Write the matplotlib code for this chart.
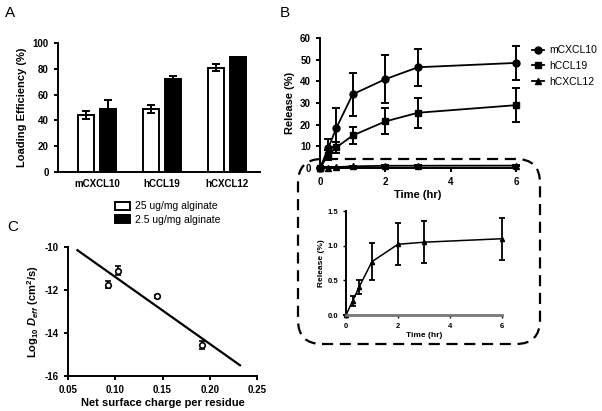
import matplotlib
matplotlib.use("Agg")
import matplotlib.pyplot as plt
from matplotlib.patches import FancyBboxPatch, Patch
import numpy as np

plt.rcParams['font.family'] = ['Liberation Sans', 'DejaVu Sans']
plt.rcParams['mathtext.fontset'] = 'custom'
plt.rcParams['mathtext.rm'] = 'Liberation Sans:bold'
plt.rcParams['mathtext.it'] = 'Liberation Sans:bold:italic'
plt.rcParams['mathtext.bf'] = 'Liberation Sans:bold'
plt.rcParams['axes.unicode_minus'] = False
plt.rcParams['axes.linewidth'] = 1.4
plt.rcParams['xtick.major.width'] = 1.4
plt.rcParams['ytick.major.width'] = 1.4
plt.rcParams['xtick.major.size'] = 3
plt.rcParams['ytick.major.size'] = 3

# ---- data ----
# panel A: loading efficiency
chemokines = ['mCXCL10', 'hCCL19', 'hCXCL12']
load_25 = [44, 49, 81]
load_25_err = [3, 3, 2.5]
load_2p5 = [49, 72, 89]
load_2p5_err = [7, 2.5, 0.5]

# panel B: release over time
time_hr = [0, 0.25, 0.5, 1, 2, 3, 6]
rel_cxcl10 = [0, 9, 18.5, 34, 41, 46.5, 48.5]
rel_cxcl10_err = [0, 4.5, 9, 10, 11, 8.5, 8]
rel_ccl19 = [0, 6, 9.5, 15, 21.5, 25.5, 29]
rel_ccl19_err = [0, 2.5, 2.5, 4, 6, 7, 8]
rel_cxcl12 = [0, 0.2, 0.4, 0.77, 1.02, 1.05, 1.1]
rel_cxcl12_err = [0, 0.07, 0.1, 0.27, 0.3, 0.3, 0.3]

# panel C: diffusivity vs charge
charge = [0.092, 0.103, 0.144, 0.192]
log_deff = [-11.75, -11.1, -12.3, -14.55]
log_deff_err = [0.15, 0.2, 0.05, 0.2]
fit_x = [0.06, 0.232]
fit_y = [-10.15, -15.5]

W, H = 602, 411
fig = plt.figure(figsize=(W / 100, H / 100), dpi=100)


def px(l, t, r, b):
    return [l / W, 1 - b / H, (r - l) / W, (b - t) / H]


def style(ax, fs=7):
    for s in ['top', 'right']:
        ax.spines[s].set_visible(False)
    ax.tick_params(labelsize=fs)
    for lab in ax.get_xticklabels() + ax.get_yticklabels():
        lab.set_fontweight('bold')


# ---- panel A ----
axA = fig.add_axes(px(58, 43, 260, 172))
x = np.arange(len(chemokines))
w = 0.25
axA.bar(x - 0.17, load_25, w, color='white', edgecolor='black', linewidth=1.4)
axA.bar(x + 0.17, load_2p5, w, color='black', edgecolor='black', linewidth=1.4)
axA.errorbar(x - 0.17, load_25, yerr=load_25_err, fmt='none', ecolor='black',
             elinewidth=1.4, capsize=3, capthick=1.4)
axA.errorbar(x + 0.17, load_2p5, yerr=[[0] * 3, load_2p5_err], fmt='none', ecolor='black',
             elinewidth=1.4, capsize=3, capthick=1.4)
axA.set_xlim(-0.6, 2.51)
axA.set_ylim(0, 100)
axA.set_yticks([0, 20, 40, 60, 80, 100])
axA.set_xticks(x)
axA.set_xticklabels(chemokines)
axA.tick_params(axis='x', length=0, pad=5)
axA.set_ylabel('Loading Efficiency (%)', fontsize=8, fontweight='bold', labelpad=4)
style(axA)

# legend for A
hA = [Patch(facecolor='white', edgecolor='black', linewidth=1.4, label='25 ug/mg alginate'),
      Patch(facecolor='black', edgecolor='black', linewidth=1.4, label='2.5 ug/mg alginate')]
fig.legend(handles=hA, loc='upper left', bbox_to_anchor=(110 / W, 1 - 196 / H),
           frameon=False, fontsize=7.5, handlelength=1.4, handleheight=0.8,
           handletextpad=0.5, labelspacing=0.35, borderpad=0)

# ---- panel C ----
axC = fig.add_axes(px(68, 247, 257, 376))
axC.plot(fit_x, fit_y, color='black', lw=1.6)
axC.errorbar(charge, log_deff, yerr=log_deff_err, fmt='o', mfc='white', mec='black',
             ms=4, mew=1.2, ecolor='black', elinewidth=1.2, capsize=2.5, capthick=1.2)
axC.set_xlim(0.05, 0.25)
axC.set_ylim(-16, -10)
axC.set_xticks([0.05, 0.10, 0.15, 0.20, 0.25])
axC.set_xticklabels(['0.05', '0.10', '0.15', '0.20', '0.25'])
axC.set_yticks([-10, -12, -14, -16])
axC.set_xlabel('Net surface charge per residue', fontsize=8, fontweight='bold', labelpad=2)
axC.set_ylabel(r'Log$_{10}$ $D_{eff}$ (cm$^{2}$/s)', fontsize=8, fontweight='bold', labelpad=3)
style(axC)

# ---- panel B ----
axB = fig.add_axes(px(320, 38, 516, 168))
ekw = dict(color='black', lw=1.3, elinewidth=1.4, capsize=3, capthick=1.4, clip_on=False)
axB.errorbar(time_hr, rel_cxcl10, yerr=rel_cxcl10_err, marker='o', ms=5, label='mCXCL10', **ekw)
axB.errorbar(time_hr, rel_ccl19, yerr=rel_ccl19_err, marker='s', ms=5, label='hCCL19', **ekw)
axB.errorbar(time_hr, rel_cxcl12, yerr=rel_cxcl12_err, marker='^', ms=4.5, label='hCXCL12', **ekw)
axB.set_xlim(0, 6)
axB.set_ylim(0, 60)
axB.set_xticks([0, 2, 4, 6])
axB.set_yticks(range(0, 61, 10))
axB.set_xlabel('Time (hr)', fontsize=8, fontweight='bold', labelpad=2)
axB.set_ylabel('Release (%)', fontsize=8, fontweight='bold', labelpad=4)
style(axB)
hB, lB = axB.get_legend_handles_labels()
hB = [h[0] for h in hB]
axB.legend(hB, lB, loc='upper left', bbox_to_anchor=(527 / W, 1 - 40 / H),
           bbox_transform=fig.transFigure, frameon=False, fontsize=7.5,
           handlelength=1.1, handletextpad=0.5, labelspacing=0.55, borderpad=0)

# inset for hCXCL12
axI = fig.add_axes(px(346, 211, 502, 315))
axI.errorbar(time_hr, rel_cxcl12, yerr=rel_cxcl12_err, marker='^', ms=3,
             color='black', lw=1.1, elinewidth=1.3, capsize=2.5, capthick=1.3, clip_on=False)
axI.set_xlim(0, 6)
axI.set_ylim(0, 1.5)
axI.set_xticks([0, 2, 4, 6])
axI.set_yticks([0, 0.5, 1.0, 1.5])
axI.set_yticklabels(['0.0', '0.5', '1.0', '1.5'])
axI.spines['bottom'].set_color('#777777')
axI.spines['bottom'].set_linewidth(2)
axI.tick_params(length=2, width=1)
axI.set_xlabel('Time (hr)', fontsize=6, fontweight='bold', labelpad=2)
axI.set_ylabel('Release (%)', fontsize=6, fontweight='bold', labelpad=2)
style(axI, fs=5.5)

# dashed rounded box around the inset
box = FancyBboxPatch((2.98, (H - 344) / 100), 2.42, 1.85,
                     boxstyle='round,pad=0,rounding_size=0.24',
                     transform=fig.dpi_scale_trans, fill=False,
                     ls=(0, (5, 3)), lw=1.6, edgecolor='black')
fig.patches.append(box)

# panel letters
fig.text(5 / W, 1 - 13 / H, 'A', fontsize=11, va='center')
fig.text(280 / W, 1 - 13 / H, 'B', fontsize=11, va='center')
fig.text(7 / W, 1 - 227 / H, 'C', fontsize=11, va='center')

fig.savefig('out.png', dpi=100)
